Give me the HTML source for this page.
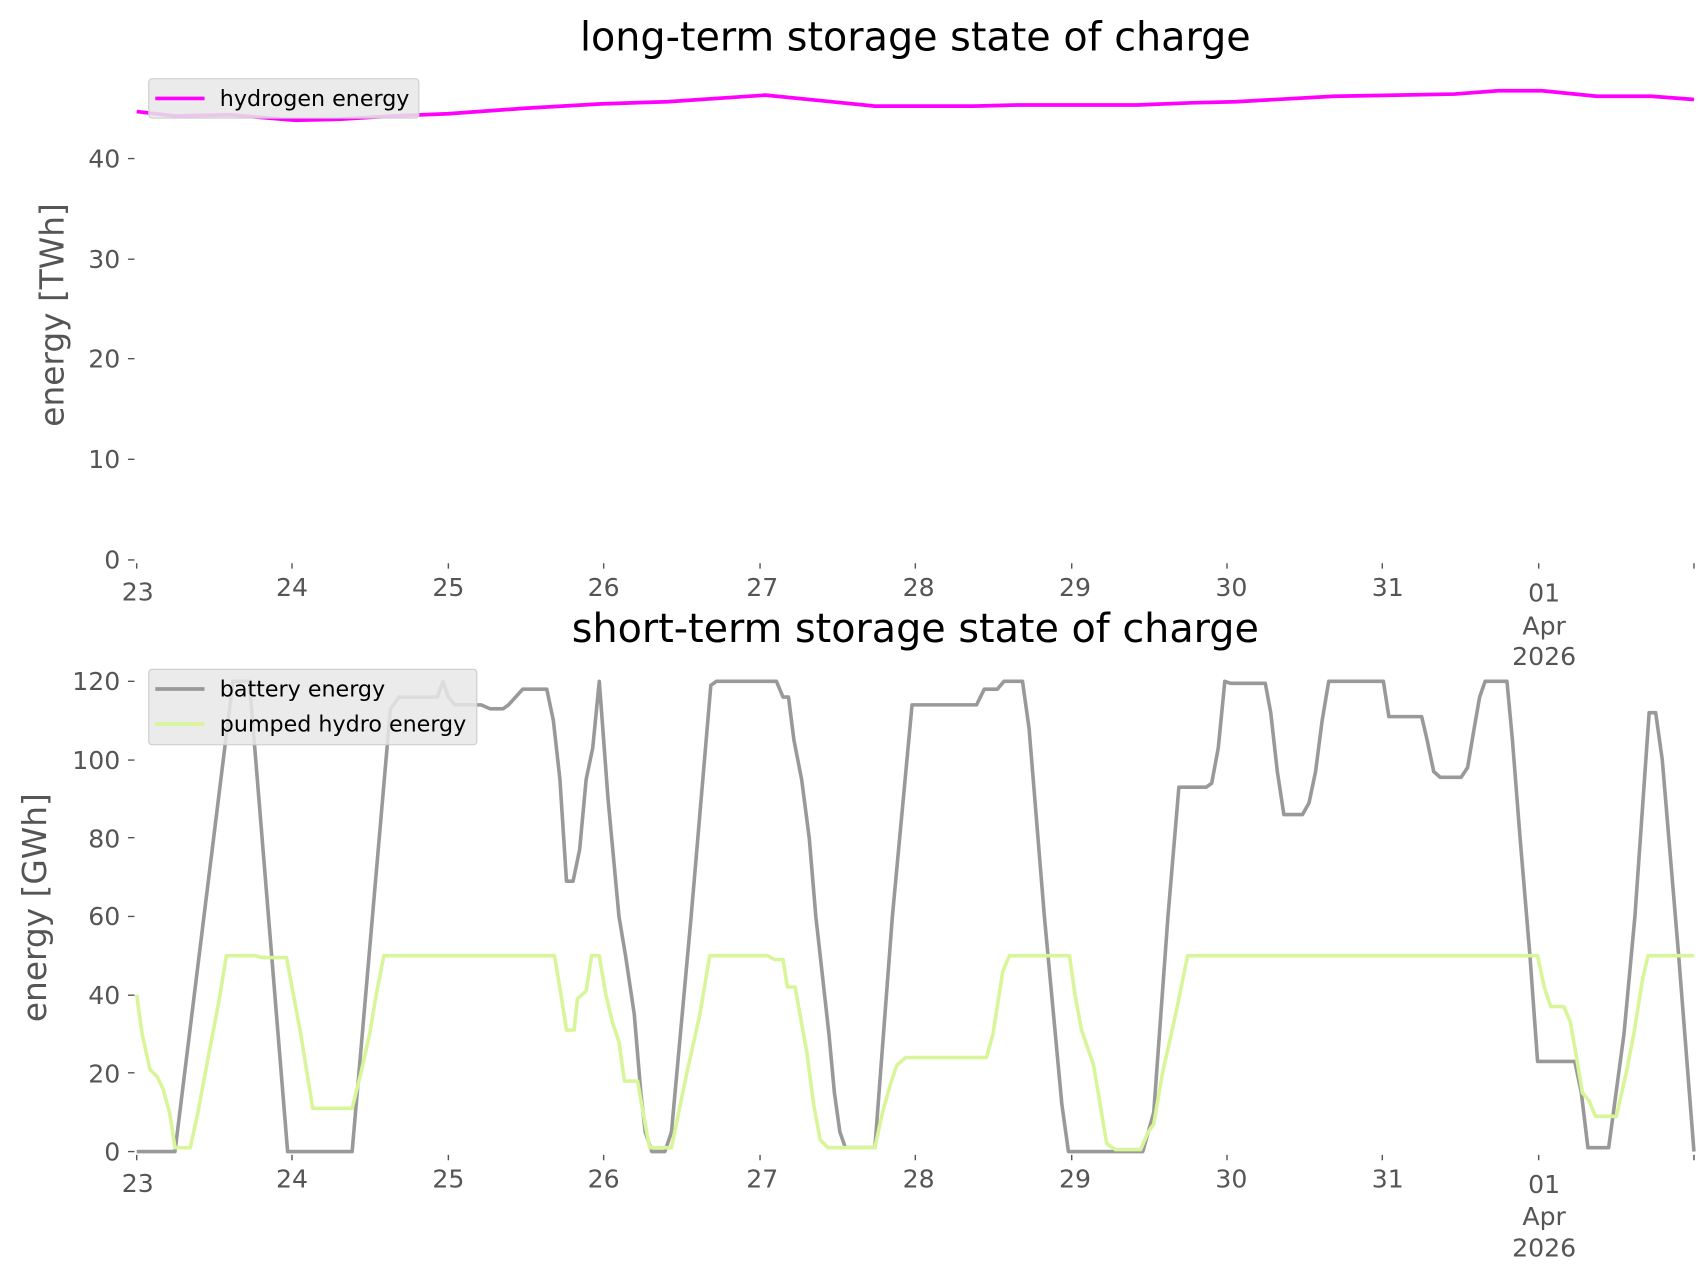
<!DOCTYPE html>
<html><head><meta charset="utf-8"><style>html,body{margin:0;padding:0;background:#fff}svg{display:block}</style></head>
<body>
<svg width="1706" height="1277" viewBox="0 0 1560 1167.7" xmlns="http://www.w3.org/2000/svg" font-family="DejaVu Sans, Liberation Sans, sans-serif">
<rect width="1560" height="1168" fill="#fff"/>
<text x="837" y="46" font-size="36.3" text-anchor="middle" fill="#000">long-term storage state of charge</text>
<text x="837" y="587" font-size="36.3" text-anchor="middle" fill="#000">short-term storage state of charge</text>
<g fill="#555" font-size="23" text-anchor="end">
<text x="110" y="520">0</text><text x="110" y="428">10</text><text x="110" y="336">20</text><text x="110" y="245">30</text><text x="110" y="153">40</text>
<text x="110" y="1061">0</text><text x="110" y="990">20</text><text x="110" y="918">40</text><text x="110" y="846">60</text><text x="110" y="775">80</text><text x="110" y="703">100</text><text x="110" y="631">120</text>
</g>
<g stroke="#555" stroke-width="1.3">
<path d="M117 512h6M117 420h6M117 328h6M117 237h6M117 145h6"/>
<path d="M117 1053h6M117 981h6M117 910h6M117 838h6M117 766h6M117 695h6M117 623h6"/>
<path d="M125 515v5M267 515v5M410 515v5M552 515v5M695 515v5M837 515v5M980 515v5M1122 515v5M1264 515v5M1407 515v5M1549 515v5"/>
<path d="M125 1056v5M267 1056v5M410 1056v5M552 1056v5M695 1056v5M837 1056v5M980 1056v5M1122 1056v5M1264 1056v5M1407 1056v5M1549 1056v5"/>
</g>
<g fill="#555" font-size="23" text-anchor="middle">
<text x="126" y="549">23</text><text x="267" y="545">24</text><text x="410" y="545">25</text><text x="552" y="545">26</text><text x="697" y="545">27</text><text x="840" y="545">28</text><text x="983" y="545">29</text><text x="1126" y="545">30</text><text x="1269" y="545">31</text><text x="1412" y="550">01</text><text x="1412" y="580">Apr</text><text x="1412" y="608">2026</text>
<text x="126" y="1090">23</text><text x="267" y="1086">24</text><text x="410" y="1086">25</text><text x="552" y="1086">26</text><text x="697" y="1086">27</text><text x="840" y="1086">28</text><text x="983" y="1086">29</text><text x="1126" y="1086">30</text><text x="1269" y="1086">31</text><text x="1412" y="1091">01</text><text x="1412" y="1120">Apr</text><text x="1412" y="1149">2026</text>
</g>
<text transform="translate(58,288) rotate(-90)" font-size="30" fill="#555" text-anchor="middle">energy [TWh]</text>
<text transform="translate(42,830) rotate(-90)" font-size="30" fill="#555" text-anchor="middle">energy [GWh]</text>
<polyline fill="none" stroke="#ff00ff" stroke-width="3.4" points="125,102 160,106 210,105 270,110 310,109 360,106 410,104 480,99 550,95 610,93 700,87 760,93 800,97 890,97 930,96 1040,96 1090,94 1130,93 1220,88 1330,86 1370,83 1410,83 1460,88 1510,88 1549,91"/>
<rect x="136" y="72" width="247" height="36" rx="3" fill="#e8e8e8" fill-opacity="0.85" stroke="#ccc"/>
<line x1="142" y1="90" x2="187" y2="90" stroke="#ff00ff" stroke-width="3.4"/>
<text x="201" y="97" font-size="20.3" fill="#000">hydrogen energy</text>
<g transform="translate(0,1053) scale(1,-3.583)" fill="none" stroke-width="3.6" stroke-linejoin="round">
<polyline vector-effect="non-scaling-stroke" stroke="#999" points="125,0 160,0 213,120 228,120 263,0 322,0 357,113 365,116 400,116 405,120 410,116 416,114 440,114 448,113 460,113 465,114 478,118 500,118 506,110 512,95 518,69 524,69 530,77 536,95 542,103 548,120 556,90 566,60 572,50 580,35 586,15 590,5 596,0 608,0 614,5 632,60 650,119 655,120 710,120 716,116 721,116 726,105 733,95 740,80 746,60 752,45 758,30 763,15 768,5 773,1 800,1 816,60 834,114 893,114 900,118 912,118 918,120 935,120 941,108 955,60 965,30 971,12 977,0 1045,0 1055,10 1068,60 1078,93 1103,93 1108,94 1114,103 1120,120 1125,119.5 1157,119.5 1162,112 1168,97 1174,86 1191,86 1197,89 1203,97 1209,110 1215,120 1265,120 1270,111 1300,111 1305,105 1311,97 1317,95.5 1336,95.5 1342,98 1348,108 1353,116 1358,120 1378,120 1383,105 1390,80 1399,50 1406,23 1440,23 1446,15 1452,1 1471,1 1485,30 1495,60 1508,112 1514,112 1520,100 1535,50 1549,0"/>
<polyline vector-effect="non-scaling-stroke" stroke="#d9f59a" points="125,40 130,30 137,21 144,19 149,16 155,10 160,1 174,1 181,10 191,25 200,38 207,50 233,50 240,49.5 262,49.5 275,30 286,11 322,11 330,20 338,30 344,40 351,50 507,50 513,40 518,31 525,31 528,39 536,41 541,50 548,50 554,40 560,33 566,28 571,18 583,18 588,10 594,1 614,1 628,20 640,35 649,50 702,50 708,49 716,49 720,42 727,42 738,25 744,12 750,3 757,1 800,1 807,10 814,17 820,22 828,24 902,24 908,30 917,46 923,50 978,50 983,40 989,31 1000,22 1006,12 1012,2 1020,0.5 1043,0.5 1050,5 1055,7 1063,20 1075,35 1086,50 1406,50 1412,42 1418,37 1430,37 1436,33 1441,25 1447,15 1453,13 1459,9 1478,9 1487,20 1494,30 1502,44 1507,50 1549,50"/>
</g>
<rect x="136" y="612" width="300" height="69" rx="3" fill="#e8e8e8" fill-opacity="0.85" stroke="#ccc"/>
<line x1="142" y1="630" x2="187" y2="630" stroke="#999" stroke-width="3.4"/>
<text x="201" y="637" font-size="20.3" fill="#000">battery energy</text>
<line x1="142" y1="662" x2="187" y2="662" stroke="#d9f59a" stroke-width="3.4"/>
<text x="201" y="669" font-size="20.3" fill="#000">pumped hydro energy</text>
</svg>
</body></html>
